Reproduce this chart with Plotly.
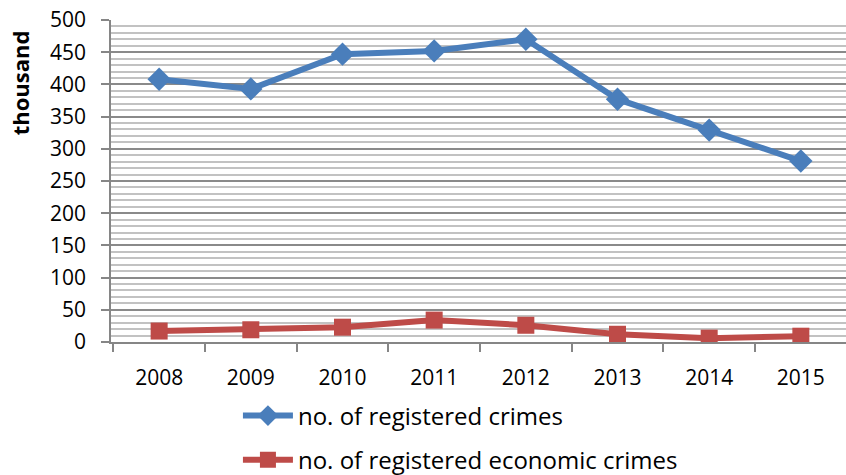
import plotly.graph_objects as go

years = ["2008", "2009", "2010", "2011", "2012", "2013", "2014", "2015"]
registered_crimes = [408, 393, 447, 452, 470, 377, 329, 281]
economic_crimes = [17, 19, 23, 34, 26, 12, 6, 9]
y_ticks = [0, 50, 100, 150, 200, 250, 300, 350, 400, 450, 500]

FONT = "Open Sans"

fig = go.Figure()
fig.add_trace(go.Scatter(
    x=years, y=registered_crimes, mode="lines+markers",
    name="no. of registered crimes",
    line=dict(color="#4A7EBB", width=6),
    marker=dict(symbol="diamond", size=18, color="#4A7EBB"),
    legendgroup="a",
))
fig.add_trace(go.Scatter(
    x=years, y=economic_crimes, mode="lines+markers",
    name="no. of registered economic crimes",
    line=dict(color="#BE4B48", width=6),
    marker=dict(symbol="square", size=17, color="#BE4B48"),
    legendgroup="b",
))

fig.update_layout(
    width=849, height=475,
    margin=dict(l=111, r=0, t=20, b=133, autoexpand=False),
    paper_bgcolor="white", plot_bgcolor="white",
    font=dict(family=FONT, size=21, color="#000000"),
    showlegend=True,
    legend=dict(
        orientation="v", x=0.172, xanchor="left", y=-0.16, yanchor="top",
        font=dict(family=FONT, size=24), tracegroupgap=10,
        traceorder="grouped", itemwidth=50, bgcolor="rgba(0,0,0,0)",
    ),
)
fig.update_xaxes(
    type="category", tickson="boundaries", ticks="outside", ticklen=8,
    tickcolor="#868686", tickwidth=1.5, showline=True, linecolor="#868686", linewidth=1.5,
    showgrid=False, tickfont=dict(size=21), ticklabelstandoff=16, automargin=False,
)
fig.update_yaxes(
    range=[0, 500], tickvals=y_ticks, ticks="outside", ticklen=8,
    tickcolor="#868686", tickwidth=1.5, showline=True, linecolor="#868686", linewidth=1.5,
    showgrid=True, gridcolor="#8A8A8A", gridwidth=1.8, zeroline=False,
    minor=dict(dtick=10, showgrid=True, gridcolor="#C2C2C2", gridwidth=1.8, ticks=""),
    tickfont=dict(size=21), ticklabelstandoff=11, automargin=False,
)
fig.add_annotation(
    text="<b>thousand</b>", xref="paper", yref="paper", x=-0.124, y=0.805,
    xanchor="center", yanchor="middle", textangle=-90, showarrow=False,
    font=dict(family=FONT, size=22, color="#000000"),
)
fig.write_html(
    "out.html",
    config={"displayModeBar": False},
    post_script="document.body.style.margin='0';document.body.style.overflow='hidden';",
)
